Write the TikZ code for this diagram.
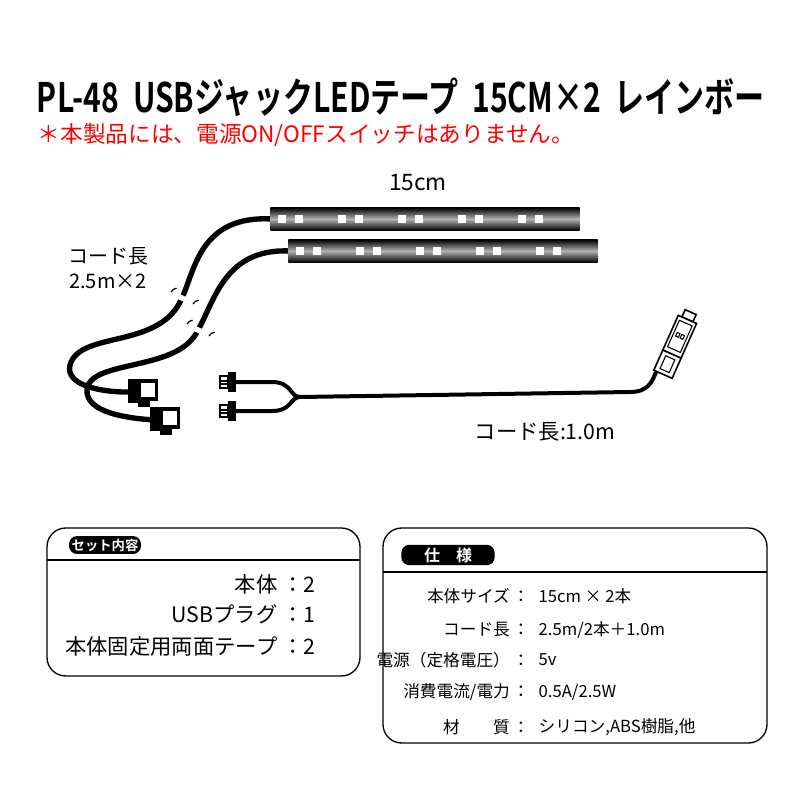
\documentclass[tikz,border=0pt]{standalone}
\usepackage{fontspec}
\setmainfont{Noto Sans CJK JP}
\newfontfamily\titlefont{Noto Sans CJK JP Bold}
\usetikzlibrary{positioning}
\begin{document}
\begin{tikzpicture}[x=0.75pt,y=-0.75pt,
  cable/.style={line width=4pt,black,line cap=round},
  strip/.style={top color=black,bottom color=black,middle color=gray!60},
  led/.style={fill=white,minimum size=6pt,inner sep=0pt},
  infobox/.style={draw,line width=1pt,rounded corners=14pt},
  pill/.style={fill=black,text=white,rounded corners=6pt,inner sep=2pt},
  item/.style={anchor=east,font=\fontsize{16}{16}\selectfont},
  spec/.style={anchor=east,font=\fontsize{12.5}{12.5}\selectfont},
  val/.style={anchor=west,font=\fontsize{12.5}{12.5}\selectfont}]
\useasboundingbox (0,0) rectangle (800,800);
% headings
\node (title) at (401,97) {\resizebox{546pt}{26pt}{\titlefont PL-48\ \ USBジャックLEDテープ\ \ 15CM×2\ \ レインボー}};
\node[anchor=west,red] (note) at (33,135) {\fontsize{17}{17}\selectfont ＊本製品には、電源ON/OFFスイッチはありません。};
\node (len) at (418,183) {\fontsize{17}{17}\selectfont 15cm};
% cables to strips
\draw[cable] (272,219) .. controls (200,215) and (195,270) .. (182,298)
  .. controls (160,350) and (80,330) .. (70,365) .. controls (65,385) and (100,393) .. (135,392);
\draw[cable] (290,251) .. controls (225,248) and (215,300) .. (198,330)
  .. controls (180,370) and (100,360) .. (88,385) .. controls (80,410) and (120,418) .. (155,420);
% breaks
\foreach \p in {(182,298),(198,330)}{
  \draw[white,line width=4pt] \p ++(-9,-4) -- ++(18,8);
  \draw[line width=0.9pt] \p ++(-11,-6) arc (210:260:8);
  \draw[line width=0.9pt] \p ++(11,6) arc (30:80:-8);}
% strips
\node[strip,minimum width=232pt,minimum height=17pt,inner sep=0pt] (strip1) at (425,219) {};
\node[strip,minimum width=232pt,minimum height=17pt,inner sep=0pt] (strip2) at (443,251) {};
\foreach \s/\x in {1/282,2/300}{
  \foreach \k in {0,...,4}{
    \node[led] at (\x+\k*60,219+\s*32-32) {};
    \node[led] at (\x+\k*60+17,219+\s*32-32) {};}}
% female connectors
\foreach \y/\x in {391/128,419/150}{
  \fill (\x,\y-12) rectangle (\x+10,\y+12);
  \fill (\x+10,\y-12) rectangle (\x+30,\y+10);
  \fill[white] (\x+13,\y-8) rectangle (\x+27,\y+6);
  \fill (\x+10,\y+10) rectangle (\x+22,\y+16);}
% male connectors and usb cable
\coordinate (split) at (300,397);
\foreach \y in {382,411}{
  \fill (228,\y-10) rectangle (236,\y+10);
  \draw[line width=1pt] (220,\y-6) rectangle (228,\y+6);
  \draw[line width=0.8pt] (221,\y-1) -- (227,\y-1) (221,\y+2) -- (227,\y+2);
  \draw[line width=3pt] (236,\y) -- (272,\y) .. controls (292,\y) and (290,397) .. (split);}
\draw[line width=3pt] (split) -- (630,392) .. controls (648,392) and (652,382) .. (656,372);
\begin{scope}[shift={(676,345)},rotate=66]
  \draw[line width=1.2pt,fill=white] (28,-6) rectangle (36,6);
  \draw[line width=1.2pt,fill=white] (-10,-10) rectangle (28,10);
  \draw[line width=1.2pt,fill=white] (-32,-10) rectangle (-10,10);
  \draw[line width=0.8pt] (-28,-5) rectangle (-14,5);
  \draw[line width=0.8pt] (-5,-7) rectangle (24,7);
  \draw[line width=0.8pt] (8,-4) rectangle (12,-1) (8,1) rectangle (12,4);
\end{scope}
% labels
\node (cordA) at (108,256) {\fontsize{15}{15}\selectfont コード長};
\node[below=0pt of cordA] (cordB) {\fontsize{15}{15}\selectfont 2.5m×2};
\node (cordC) at (545,432) {\fontsize{16}{16}\selectfont コード長:1.0m};
% set contents box
\draw[infobox] (47,528) rectangle (360,676);
\draw[line width=1pt] (47,560) -- (360,560);
\node[pill] (setlbl) at (105,545) {\fontsize{10}{10}\selectfont\titlefont セット内容};
\node[item] (s1) at (320,584) {本体\ ：2};
\node[item] (s2) at (320,614) {USBプラグ\ ：1};
\node[item] (s3) at (320,646) {本体固定用両面テープ\ ：2};
% spec box
\draw[infobox] (383,528) rectangle (767,743);
\draw[line width=1pt] (383,572) -- (767,572);
\node[pill,minimum width=70pt] (speclbl) at (448,555) {\fontsize{12}{12}\selectfont\titlefont 仕\quad 様};
\foreach \y/\a/\b in {596/{本体サイズ}/{15cm × 2本},630/{コード長}/{2.5m/2本＋1.0m},660/{電源（定格電圧）}/{5v},692/{消費電流/電力}/{0.5A/2.5W},727/{材\qquad 質}/{シリコン,ABS樹脂,他}}{
  \node[spec] at (534,\y) {\a\,：};
  \node[val] at (534,\y) {\b};}
\end{tikzpicture}
\end{document}
